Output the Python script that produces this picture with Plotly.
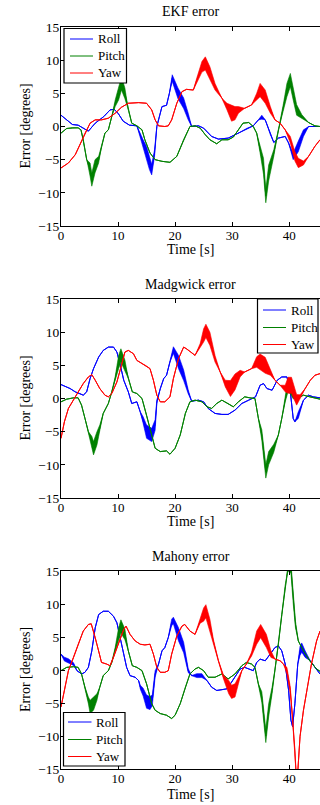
import plotly.graph_objects as go

# ---------------- DATA ----------------
x_ticks = [0, 10, 20, 30, 40]
y_ticks = [-15, -10, -5, 0, 5, 10, 15]
series_names = ["Roll", "Pitch", "Yaw"]
series_colors = ["#0000ff", "#008000", "#ff0000"]
panel_titles = ["EKF error", "Madgwick error", "Mahony error"]

# EKF
ekf_roll_t = [0,1,2,3,4.8,6,7.5,8.6,9.3,10,10.9,12,13.3,14.4,15.0,15.5,15.9,16.4,16.8,17.7,18.5,19,19.5,20.5,21.5,22.3,22.9,24.1,25,26.4,27.6,29.3,31.1,32.6,33.7,34.6,35.2,35.8,36.7,37.3,38.1,39.3,39.9,40.7,41.6,42.5,43.4,45.4]
ekf_roll_y = [1.7,1.0,0.3,0.2,-0.7,0.5,1.5,2.5,2.6,2.0,0.8,0.2,0.1,-2.5,-4,-5.5,-6.5,-4,0,3,3.2,5,7.3,5,3.5,1.5,0,0.1,-0.25,-1.5,-1.9,-1.75,-1.0,-0.25,0.1,1.0,1.4,1,-1.25,-2.4,-1.75,-1.5,-2.5,-4.5,-3,-1,0,0]
ekf_roll_noise = {14.4:0.5, 15.0:1, 15.5:1, 15.9:0.8, 16.4:0.5, 19.5:0.5, 20.5:0.8, 21.5:0.8, 22.3:0.5, 35.2:0.3, 40.7:0.5, 41.6:0.8, 42.5:0.5}

ekf_pitch_t = [0,1,2,3,3.5,3.9,4.5,5.1,5.4,5.96,6.6,7.1,7.7,8.3,8.9,9.5,10.1,10.6,11.2,11.8,12.4,13.3,14.2,14.7,15.6,16.5,17.7,19.1,20.3,21.5,22.6,23.5,24.4,25.3,26.1,27.3,28.2,29.3,30.2,31.1,31.9,32.9,33.7,34.3,34.9,35.5,35.9,36.4,37.3,38.1,39,39.6,40.2,40.7,41.3,42.2,43.4,44.5,45.4]
ekf_pitch_y = [-1,-0.3,-0.2,-0.2,-0.5,-2,-5,-6.5,-8,-6,-5,-3,-1,-0.5,1.5,3.5,5,6.5,5,2.5,0.5,0.1,-0.5,-2,-4,-5,-5.25,-5.4,-4.5,-2,0,0.1,-0.25,-1.25,-2,-2.6,-2,-2,-1.6,-0.5,0.5,0.6,0,-1,-3.5,-6,-10.5,-7,-4,-0.5,3,5.5,7,5,2.5,1.5,0.6,0.1,0]
ekf_pitch_noise = {5.1:1, 5.4:1, 5.96:1, 6.6:0.5, 9.5:0.5, 10.1:1, 10.6:1, 11.2:0.8, 34.9:0.5, 35.5:1.2, 35.9:1, 36.4:1.2, 37.3:0.5, 39:0.5, 39.6:1, 40.2:1, 40.7:1, 41.3:0.8, 42.2:0.3}

ekf_yaw_t = [0,1.3,2.5,3.3,4.2,5.1,6,7.1,8.3,9.5,10.6,11.8,13.6,15.0,15.9,16.5,17.1,18.2,18.8,19.4,20.3,21.2,22.0,23.2,23.8,24.7,25.3,26.1,27.0,28.2,29.1,29.9,30.5,31.1,32.2,33.4,34.3,34.9,35.8,36.7,37.5,38.4,39.3,40.2,41.0,41.6,42.5,43.4,44.5,45.4]
ekf_yaw_y = [-6.25,-5.5,-4.25,-2.75,-1,0.5,1,1,1.25,2,2.9,3.5,3.6,3.5,2.5,1,0.1,0,0.1,1,3.5,5.25,5.6,5.5,7,9,9.5,8,6,4.25,3,2,2,2.5,2.75,3.25,4.5,5.5,4.5,2.5,1,0.5,-0.5,-2,-4.5,-5.5,-5.5,-4.5,-3,-2]
ekf_yaw_noise = {23.8:0.3, 24.7:0.8, 25.3:1, 26.1:1, 27.0:0.5, 29.1:0.5, 29.9:1.2, 30.5:1, 31.1:0.5, 34.3:0.5, 34.9:1, 35.8:1, 36.7:0.5, 40.2:0.5, 41.0:0.7, 41.6:0.7, 42.5:0.3}

# Madgwick
mad_roll_t = [0,0.7,1.6,2.5,3.3,3.9,4.5,5.1,5.7,6.6,7.4,8.3,9.2,9.8,10.4,11.0,11.8,12.4,13.3,13.9,14.4,15.0,15.9,16.5,16.8,17.4,18.0,18.5,19.1,19.7,20.6,21.5,22.3,22.9,24.1,25.0,25.8,27.0,28.2,29.3,30.5,31.7,32.9,34.1,34.9,35.5,36.1,37.0,37.9,38.7,39.6,40.2,40.7,41.0,41.6,42.5,43.4,44.2,45.4]
mad_roll_y = [2.1,1.85,1.5,1.0,0.75,0.5,1,3,4.5,6.25,7.25,7.75,7.75,7,5,2.75,1,-0.75,-0.5,-2,-3.25,-5,-5.5,-4,-0.5,1.5,3,3.5,5.5,7.3,5.5,3.5,1,-0.4,-0.25,-0.5,-1.5,-2.25,-2.4,-2.4,-1.75,-0.75,-0.25,0.25,2,2.25,1.5,1.25,2.75,3.25,3.25,1,-3,-3.5,-2.5,-0.25,0.5,0.25,0.1]
mad_roll_noise = {14.4:0.5, 15.0:1, 15.9:1, 16.5:0.8, 16.8:0.3, 19.7:0.5, 20.6:1, 21.5:0.8, 22.3:0.3, 41.6:0.5}

mad_pitch_t = [0,1.0,2.2,3.0,3.6,4.2,4.8,5.4,5.7,6.3,6.8,7.4,8.3,8.9,9.5,10.1,10.5,11.2,11.8,12.5,13.3,14.2,15.0,15.9,16.5,17.4,18.5,19.1,20.0,20.9,21.8,22.6,23.5,24.7,25.6,26.4,27.3,28.2,29.3,30.2,31.1,32.2,33.1,34.0,34.6,35.2,35.9,36.4,37.3,38.1,38.7,39.3,39.8,40.2,40.7,41.6,42.5,43.6,45.4]
mad_pitch_y = [-0.5,-0.1,0.1,0.1,-1,-3,-5,-6.5,-7.5,-6,-4.5,-2.25,-0.75,1,3,5.5,6.5,5,3,1,0.75,0,-2.5,-5.5,-7.5,-8,-7.9,-8.4,-7.5,-5.5,-2.25,-0.5,-0.25,-0.5,-1.25,-1.5,-0.75,-0.25,-0.75,-1.25,-0.5,0.25,0.1,0,-3,-5.5,-11,-9,-7.5,-5.5,-3,0,2,1.5,0.25,0.1,0.5,0.25,-0.1]
mad_pitch_noise = {5.4:0.8, 5.7:1, 6.3:1, 6.8:0.5, 9.5:0.3, 10.1:1, 10.5:1, 11.2:0.8, 35.2:0.8, 35.9:1, 36.4:1, 37.3:0.6, 39.3:0.5, 39.8:1, 40.2:0.8, 40.7:0.3}

mad_yaw_t = [0,0.6,1.3,2.2,3.0,3.9,4.8,5.4,6.0,6.8,7.7,8.3,8.9,9.8,10.6,11.2,11.8,12.7,13.3,14.2,15.0,15.6,16.2,16.8,17.4,18.2,19.1,19.7,20.6,21.5,22.0,22.6,23.5,24.4,25.0,25.4,26.1,27.0,27.9,28.8,29.7,30.5,31.4,32.2,33.4,34.3,34.9,35.8,36.7,37.5,38.4,39.3,39.8,40.4,41.3,41.9,42.8,43.7,44.5,45.4]
mad_yaw_y = [-6,-3.5,-1.5,-0.25,1,2.25,3.25,3.6,2.75,1.5,0.5,0.25,0.75,2.5,5,7,7.25,6.75,5.75,5.25,4.9,4.5,2.75,0.5,-0.5,-0.5,0.25,3,6,7.75,7.5,7.1,6.5,8,9.5,10.2,9,6,4,2.25,1.5,2.5,3.75,4,4.5,5.5,5.5,5,4,2.75,2,1.5,2,2,-0.2,0.25,1.5,2.75,3.5,3.75]
mad_yaw_noise = {24.4:0.3, 25.0:1, 25.4:1, 26.1:1, 27.0:0.5, 28.8:0.5, 29.7:1.2, 30.5:1.2, 31.4:0.5, 34.3:0.8, 34.9:1.2, 35.8:1.2, 36.7:0.5, 39.3:0.5, 39.8:1.2, 40.4:1.2, 41.3:0.8, 41.9:0.3}

# Mahony
mah_roll_t = [0,0.6,1.3,2.2,2.8,3.6,4.2,4.8,5.4,6.0,6.6,7.4,8.3,9.2,9.8,10.4,11.0,11.5,12.1,13.0,13.6,13.9,14.4,15.0,15.6,16.0,16.5,17.1,17.7,18.2,18.8,19.4,19.7,20.6,21.5,22.3,22.9,23.8,24.7,25.6,26.4,27.3,28.2,29.1,29.9,30.8,31.4,32.2,33.1,33.7,34.3,34.9,35.8,36.7,37.5,38.1,38.7,39.3,39.9,40.3,40.6,41.0,41.5,41.9,42.2,42.8,43.7,44.5,45.4]
mah_roll_y = [2.4,1.65,1.4,0.9,-0.1,-0.6,-0.35,0.4,2.9,6.4,8.4,8.9,8.9,8.15,7.15,4.9,2.4,0.4,-0.85,-1.1,-1.6,-2.6,-3.35,-4.8,-5,-4.6,-0.6,0.9,2.9,3.4,4.9,7.2,7.5,5.4,3.4,-0.1,-0.85,-0.85,-0.85,-1.6,-2.6,-3.1,-3,-2.85,-1.85,-0.6,0.15,0.4,0.15,-0.1,1.15,1.65,1.4,2.4,3.4,3.65,2.9,0.9,-3.1,-7.6,-8.6,-5.1,0.9,2.9,3.4,2.4,1.4,0.4,-0.6]
mah_roll_noise = {0.6:0.3, 1.3:0.3, 2.2:0.2, 13.9:0.3, 14.4:0.6, 15.0:1, 15.6:1, 16.0:0.8, 16.5:0.5, 19.4:0.5, 19.7:0.5, 20.6:1, 21.5:0.8, 22.3:0.3, 23.8:0.3, 24.7:0.3, 41.9:0.7, 42.2:0.7, 42.8:0.5}

mah_pitch_t = [0,1.0,2.2,3.0,3.6,4.2,4.8,5.1,5.7,6.3,6.8,7.4,8.3,8.9,9.5,10.1,10.5,11.2,11.8,12.5,13.3,14.2,15.0,15.9,16.5,17.4,18.5,19.4,20.0,20.9,21.8,22.6,23.5,24.1,25.0,25.8,27.0,28.2,29.3,30.5,31.7,32.5,33.4,34.0,34.6,35.2,35.9,36.4,37.0,37.5,38.1,38.7,39.3,39.8,40.3,40.7,41.1,41.6,42.5,43.6,44.8,45.4]
mah_pitch_y = [-0.1,0.4,0.5,0.4,-0.6,-2.6,-4.6,-5.6,-5.1,-4.1,-2.6,-0.85,-0.1,1.15,3.15,5.4,6.6,5.4,2.9,0.65,0.4,-0.1,-2.1,-5.1,-6.1,-6.6,-6.85,-7.35,-6.85,-5.1,-2.6,-0.6,0.15,0.4,-0.1,-1.1,-1.1,-0.6,-1.35,-0.6,0.65,1.15,0.9,0.4,-2.1,-4.1,-10,-6.1,-3.1,-0.1,3.9,8.4,12.9,15.5,15.5,10.9,6.9,4.4,2.9,1.4,0.15,-0.2]
mah_pitch_noise = {4.8:0.5, 5.1:1, 5.7:1, 6.3:0.5, 9.5:0.3, 10.1:1, 10.5:1, 11.2:0.8, 35.2:0.8, 35.9:1, 36.4:1, 37.0:0.5, 39.8:0.5, 40.3:0.8, 40.7:0.8, 41.1:0.5}

mah_yaw_t = [0,0.6,1.3,2.2,3.0,3.9,4.8,5.3,6.0,6.6,7.1,8.0,8.6,9.2,10.1,11.0,11.4,12.1,13.0,13.9,14.7,15.6,16.2,16.8,17.4,18.2,18.8,19.4,20.3,21.2,21.7,22.6,23.5,24.4,25.0,25.4,26.1,26.7,27.6,28.5,29.4,29.9,30.5,31.1,31.7,32.5,33.4,34.3,35.0,36.0,36.8,37.5,38.4,39.0,39.6,40.2,40.6,41.0,41.2,41.5,41.9,42.5,43.1,43.9,44.8,45.4]
mah_yaw_y = [-5.6,-3.1,-0.1,1.9,3.9,5.9,6.9,7,4.9,2.9,1.15,0.9,0.65,1.9,4.15,6.15,6.65,5.4,4.4,3.9,3.8,3.9,2.4,0.4,-0.35,-0.35,-0.1,2.4,5.15,6.65,6.9,5.9,5.4,7.4,8.4,8.9,6.9,4.4,1.4,-1.1,-2.6,-3.3,-3.1,-1.6,-0.1,0.9,2.4,4.9,5.9,4.4,2.4,1.65,1.4,0.9,-0.1,-3.1,-7.1,-12.1,-15.5,-15.5,-10.1,-6.1,-3.1,0.9,4.4,5.9]
mah_yaw_noise = {24.4:0.3, 25.0:1, 25.4:1, 26.1:0.8, 26.7:0.3, 28.5:0.3, 29.4:1, 29.9:1, 30.5:1, 31.1:0.5, 33.4:0.3, 34.3:1, 35.0:1, 36.0:1, 36.8:0.5, 39.6:0.5, 40.2:0.5}

panels = [
    [(ekf_roll_t, ekf_roll_y, ekf_roll_noise), (ekf_pitch_t, ekf_pitch_y, ekf_pitch_noise), (ekf_yaw_t, ekf_yaw_y, ekf_yaw_noise)],
    [(mad_roll_t, mad_roll_y, mad_roll_noise), (mad_pitch_t, mad_pitch_y, mad_pitch_noise), (mad_yaw_t, mad_yaw_y, mad_yaw_noise)],
    [(mah_roll_t, mah_roll_y, mah_roll_noise), (mah_pitch_t, mah_pitch_y, mah_pitch_noise), (mah_yaw_t, mah_yaw_y, mah_yaw_noise)],
]

# ---------------- LAYOUT ----------------
W, H = 320, 805
PLOT_LEFT, PLOT_RIGHT, PLOT_TOP, PLOT_BOTTOM = 61, 320, 27, 769  # page pixels
ML, MR, MT, MB = PLOT_LEFT, W - PLOT_RIGHT, PLOT_TOP, H - PLOT_BOTTOM
plot_h = PLOT_BOTTOM - PLOT_TOP
plot_w = PLOT_RIGHT - PLOT_LEFT
FONT = "Liberation Serif, Times New Roman, serif"

def py2paper(py):
    return (PLOT_BOTTOM - py) / plot_h

def px2paper(px):
    return (px - PLOT_LEFT) / plot_w

panel_px = [(27, 226), (299, 498), (571, 769)]  # top, bottom page rows
title_py = [11.5, 284, 556]
xlabel_py = [249.5, 521.5, 794]

# legend boxes: (left, top, right, bottom, line_x0, line_x1, text_x, item rows)
legend_boxes = [
    (64, 28.5, 126.5, 83, 70, 93, 95.5, [39, 56, 73]),
    (257.5, 299, 318, 353, 263, 286, 289, [310, 327.5, 344.5]),
    (63.5, 712.5, 125, 766, 68, 91.5, 94, [722, 739.5, 756.5]),
]

fig = go.Figure()

for p, series in enumerate(panels):
    ax = "" if p == 0 else str(p + 1)
    for s, (t, y, noise) in enumerate(series):
        amp = [noise.get(tt, 0.0) for tt in t]
        upper = [yy + a for yy, a in zip(y, amp)]
        lower = [yy - a for yy, a in zip(y, amp)]
        fig.add_trace(go.Scatter(
            x=list(t) + list(t)[::-1], y=upper + lower[::-1],
            fill="toself", fillcolor=series_colors[s], mode="lines",
            line=dict(width=0.6, color=series_colors[s]),
            xaxis="x" + ax, yaxis="y" + ax, showlegend=False, hoverinfo="skip"))
        fig.add_trace(go.Scatter(
            x=t, y=y, mode="lines", name=series_names[s],
            line=dict(width=1, color=series_colors[s]),
            xaxis="x" + ax, yaxis="y" + ax, showlegend=False))

    top, bot = panel_px[p]
    dom = [py2paper(bot), py2paper(top)]
    fig.layout["xaxis" + ax] = dict(
        domain=[0, 1], range=[0, 45.4], anchor="y" + ax,
        tickvals=x_ticks, ticks="inside", ticklen=4, tickcolor="black",
        showline=True, linecolor="black", linewidth=1, mirror="ticks",
        showgrid=False, zeroline=False, ticklabelstandoff=-3,
        tickfont=dict(family=FONT, size=13, color="black"))
    fig.layout["yaxis" + ax] = dict(
        domain=dom, range=[-15, 15], anchor="x" + ax,
        tickvals=y_ticks, ticks="inside", ticklen=4, tickcolor="black",
        showline=True, linecolor="black", linewidth=1, mirror=False,
        showgrid=False, zeroline=False, ticklabelstandoff=-2,
        tickfont=dict(family=FONT, size=13.5, color="black"))

    fig.add_annotation(text=panel_titles[p], xref="paper", yref="paper",
                       x=0.5, y=py2paper(title_py[p]), showarrow=False,
                       xanchor="center", yanchor="middle",
                       font=dict(family=FONT, size=14, color="black"))
    fig.add_annotation(text="Time [s]", xref="paper", yref="paper",
                       x=0.5, y=py2paper(xlabel_py[p]), showarrow=False,
                       xanchor="center", yanchor="middle",
                       font=dict(family=FONT, size=14, color="black"))
    fig.add_annotation(text="Error [degrees]", xref="paper", yref="paper",
                       x=px2paper(25), y=py2paper((top + bot) / 2), showarrow=False,
                       textangle=-90, xanchor="center", yanchor="middle",
                       font=dict(family=FONT, size=14, color="black"))

    # legend (box, sample lines, labels)
    L, T, R, B, lx0, lx1, tx, rows = legend_boxes[p]
    fig.add_shape(type="rect", xref="paper", yref="paper",
                  x0=px2paper(L), x1=px2paper(R), y0=py2paper(B), y1=py2paper(T),
                  fillcolor="white", line=dict(color="black", width=1.2), layer="above")
    for s in range(3):
        fig.add_shape(type="line", xref="paper", yref="paper",
                      x0=px2paper(lx0), x1=px2paper(lx1),
                      y0=py2paper(rows[s]), y1=py2paper(rows[s]),
                      line=dict(color=series_colors[s], width=1), layer="above")
        fig.add_annotation(text=series_names[s], xref="paper", yref="paper",
                           x=px2paper(tx), y=py2paper(rows[s]), showarrow=False,
                           xanchor="left", yanchor="middle",
                           font=dict(family=FONT, size=13, color="black"))

fig.update_layout(
    width=W, height=H, margin=dict(l=ML, r=MR, t=MT, b=MB),
    paper_bgcolor="white", plot_bgcolor="white", showlegend=False,
)

# remove the browser's default 8px body margin so the figure sits at the page origin
fig.write_html("out.html", config={"displayModeBar": False},
               post_script="document.body.style.margin='0px';")
